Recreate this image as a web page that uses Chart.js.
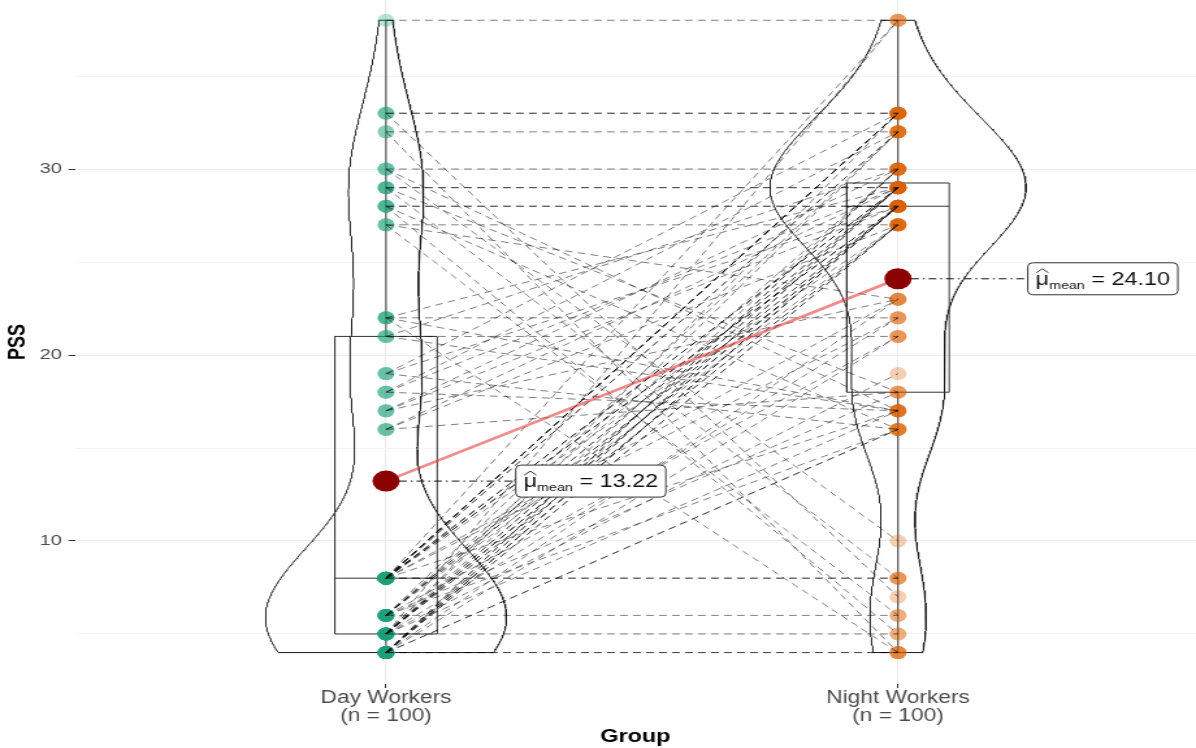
<!DOCTYPE html>
<html>
<head>
<meta charset="utf-8">
<script src="https://cdn.jsdelivr.net/npm/chart.js@4.4.0/dist/chart.umd.min.js"></script>
<style>
html, body { margin: 0; padding: 0; background: #fff; overflow: hidden; }
/* the reference picture is stretched sideways, so the canvas is too */
#wrap { width: 920px; height: 748px; transform: scaleX(1.3); transform-origin: 0 0; }
</style>
</head>
<body>
<div id="wrap"><canvas id="myChart" width="920" height="748"></canvas></div>
<script>
var groupLabels = [['Day Workers', '(n = 100)'], ['Night Workers', '(n = 100)']];
var yTicks = [5, 10, 15, 20, 25, 30, 35];

// PSS per worker, same person on the same index in both lists
var dayPSS = [38, 33, 33, 33, 32, 32, 30, 30, 30, 29, 29, 29, 29, 28, 28, 28, 28, 27, 27, 27,
    22, 22, 22, 22, 21, 21, 21, 19, 19, 19, 18, 18, 18, 17, 17, 17, 16, 16, 16,
    4, 4, 4, 4, 4, 4, 4, 4, 4, 4, 4, 4, 4, 4, 4,
    5, 5, 5, 5, 5, 5, 5, 5, 5, 5, 5, 5, 5, 5, 5,
    6, 6, 6, 6, 6, 6, 6, 6, 6, 6, 6,
    8, 8, 8, 8, 8, 8, 8, 8, 8, 8, 8, 8, 8, 8, 8, 8, 8, 8, 8, 8];
var nightPSS = [38, 33, 33, 7, 32, 4, 30, 10, 17, 29, 29, 8, 18, 28, 28, 5, 16, 27, 6, 23,
    22, 4, 17, 29, 21, 17, 30, 16, 28, 33, 17, 29, 32, 23, 28, 30, 18, 27, 29,
    4, 4, 16, 16, 21, 23, 27, 27, 28, 28, 28, 29, 29, 30, 30,
    5, 17, 19, 22, 27, 27, 28, 28, 28, 29, 29, 30, 38, 32, 33,
    6, 16, 18, 21, 27, 28, 28, 29, 29, 30, 32,
    8, 8, 17, 22, 23, 27, 28, 28, 28, 29, 29, 29, 33, 33, 33, 38, 32, 32, 33, 33];

var groupColors = ['rgba(27,158,119,0.3)', 'rgba(217,95,2,0.3)'];

Chart.defaults.font.family = '"Liberation Sans", Arial, sans-serif';

function quantile(s, p) {
    var h = (s.length - 1) * p, lo = Math.floor(h);
    var hi = Math.min(lo + 1, s.length - 1);
    return s[lo] + (h - lo) * (s[hi] - s[lo]);
}

function stats(v) {
    var s = v.slice().sort(function (a, b) { return a - b; });
    var n = s.length;
    var mean = s.reduce(function (a, b) { return a + b; }, 0) / n;
    var sd = Math.sqrt(s.reduce(function (a, b) { return a + (b - mean) * (b - mean); }, 0) / (n - 1));
    var q1 = quantile(s, 0.25), q3 = quantile(s, 0.75);
    var bw = 0.9 * Math.min(sd, (q3 - q1) / 1.34) * Math.pow(n, -0.2);
    return { min: s[0], max: s[n - 1], q1: q1, med: quantile(s, 0.5), q3: q3, mean: mean, bw: bw, n: n };
}

function density(v, st) {
    var out = [];
    for (var j = 0; j < 512; j++) {
        var g = st.min + (st.max - st.min) * j / 511;
        var d = 0;
        v.forEach(function (x) {
            var z = (g - x) / st.bw;
            d += Math.exp(-0.5 * z * z);
        });
        out.push({ y: g, d: d / (st.n * st.bw * Math.sqrt(2 * Math.PI)) });
    }
    return out;
}

var groups = [dayPSS, nightPSS];
var st = groups.map(stats);
var dens = groups.map(function (v, i) { return density(v, st[i]); });
var maxD = 0;
dens.forEach(function (dd) { dd.forEach(function (p) { maxD = Math.max(maxD, p.d); }); });

var datasets = [];

function pathSet(points, color, width, order, dash) {
    return {
        data: points,
        showLine: true,
        borderColor: color,
        borderWidth: width,
        borderDash: dash || [],
        pointRadius: 0,
        fill: false,
        tension: 0,
        order: order
    };
}

groups.forEach(function (v, i) {
    var c = i + 1, s = st[i];
    // violin outline
    var left = dens[i].map(function (p) { return { x: c - 0.25 * p.d / maxD, y: p.y }; });
    var right = dens[i].slice().reverse().map(function (p) { return { x: c + 0.25 * p.d / maxD, y: p.y }; });
    datasets.push(pathSet(left.concat(right, [left[0]]), '#1a1a1a', 1, 20));
    // box
    datasets.push(pathSet([{ x: c - 0.1, y: s.q1 }, { x: c + 0.1, y: s.q1 }, { x: c + 0.1, y: s.q3 },
        { x: c - 0.1, y: s.q3 }, { x: c - 0.1, y: s.q1 }], '#333', 1, 19));
    datasets.push(pathSet([{ x: c - 0.1, y: s.med }, { x: c + 0.1, y: s.med }], '#333', 1, 19));
    datasets.push(pathSet([{ x: c, y: s.min }, { x: c, y: s.q1 }], '#333', 1, 19));
    datasets.push(pathSet([{ x: c, y: s.q3 }, { x: c, y: s.max }], '#333', 1, 19));
    // points
    datasets.push({
        data: v.map(function (y) { return { x: c, y: y }; }),
        pointRadius: 6.5,
        pointBorderWidth: 0,
        pointBackgroundColor: groupColors[i],
        order: 18
    });
});

// paired lines
dayPSS.forEach(function (d, k) {
    datasets.push(pathSet([{ x: 1, y: d }, { x: 2, y: nightPSS[k] }], 'rgba(0,0,0,0.5)', 1, 10, [6, 4]));
});

// means
datasets.push(pathSet([{ x: 1, y: st[0].mean }, { x: 2, y: st[1].mean }], 'rgba(235,60,60,0.6)', 2.6, 3));
datasets.push({
    data: [{ x: 1, y: st[0].mean }, { x: 2, y: st[1].mean }],
    pointRadius: 10.5,
    pointBorderWidth: 0,
    pointBackgroundColor: '#8B0000',
    order: 2
});

var meanLabelPlugin = {
    id: 'meanLabels',
    afterDatasetsDraw: function (chart) {
        var c = chart.ctx, xs = chart.scales.x, ys = chart.scales.y;
        st.forEach(function (s, i) {
            var px = xs.getPixelForValue(i + 1), py = ys.getPixelForValue(s.mean);
            var cx = xs.getPixelForValue(i + 1.4);
            var txt = ' = ' + s.mean.toFixed(2);
            c.save();
            c.font = '18px "Liberation Sans", Arial, sans-serif';
            var wMu = c.measureText('\u03bc').width, wEq = c.measureText(txt).width;
            c.font = '11px "Liberation Sans", Arial, sans-serif';
            var wSub = c.measureText('mean').width;
            var w = 6 + wMu + wSub + wEq + 6, h = 32;
            var bx = cx - w / 2, by = py - h / 2;
            // dash-dot connector
            c.strokeStyle = '#111';
            c.lineWidth = 1;
            c.setLineDash([6, 3, 1.5, 3]);
            c.beginPath();
            c.moveTo(px + 10, py);
            c.lineTo(bx, py);
            c.stroke();
            c.setLineDash([]);
            // box
            c.fillStyle = '#fff';
            c.strokeStyle = '#333';
            c.beginPath();
            c.roundRect(bx, by, w, h, 4);
            c.fill();
            c.stroke();
            // text
            c.fillStyle = '#111';
            c.textBaseline = 'alphabetic';
            c.textAlign = 'left';
            var tx = bx + 6;
            c.font = '18px "Liberation Sans", Arial, sans-serif';
            c.fillText('\u03bc', tx, py + 6);
            c.beginPath();
            c.moveTo(tx + 0.5, py - 6);
            c.lineTo(tx + wMu / 2, py - 10);
            c.lineTo(tx + wMu - 0.5, py - 6);
            c.stroke();
            c.font = '11px "Liberation Sans", Arial, sans-serif';
            c.fillText('mean', tx + wMu, py + 10);
            c.font = '18px "Liberation Sans", Arial, sans-serif';
            c.fillText(txt, tx + wMu + wSub, py + 6);
            c.restore();
        });
    }
};

var myChart = new Chart(document.getElementById('myChart'), {
    type: 'scatter',
    data: { datasets: datasets },
    options: {
        responsive: false,
        animation: false,
        layout: { padding: 0, autoPadding: false },
        plugins: { legend: { display: false }, tooltip: { enabled: false } },
        scales: {
            x: {
                type: 'linear',
                min: 0.3926,
                max: 2.582,
                afterBuildTicks: function (s) { s.ticks = [{ value: 1 }, { value: 2 }]; },
                afterFit: function (s) { s.height = 64; s.paddingLeft = 0; s.paddingRight = 0; },
                border: { display: false },
                grid: { color: '#EBEBEB', tickColor: '#333', tickLength: 4 },
                ticks: {
                    callback: function (v) { return groupLabels[v - 1]; },
                    font: { size: 17.5, lineHeight: 1.03 },
                    color: '#4D4D4D',
                    padding: 1,
                    maxRotation: 0,
                    autoSkip: false
                },
                title: { display: true, text: 'Group', color: '#000', font: { size: 18, weight: 'bold' }, padding: { top: 0, bottom: 0 } }
            },
            y: {
                min: 2.31,
                max: 39.09,
                afterBuildTicks: function (s) { s.ticks = yTicks.map(function (v) { return { value: v }; }); },
                afterFit: function (s) { s.width = 57.7; s.paddingTop = 0; s.paddingBottom = 0; },
                border: { display: false },
                grid: {
                    color: function (ctx) { return ctx.tick && ctx.tick.value % 10 === 0 ? '#EBEBEB' : '#F4F4F4'; },
                    tickColor: function (ctx) { return ctx.tick && ctx.tick.value % 10 === 0 ? '#333' : 'rgba(0,0,0,0)'; },
                    tickLength: 5
                },
                ticks: {
                    callback: function (v) { return v % 10 === 0 ? String(v) : ''; },
                    font: { size: 15.5 },
                    color: '#4D4D4D',
                    padding: 5
                },
                title: { display: true, text: 'PSS', color: '#000', font: { size: 18, weight: 'bold' }, padding: { top: 3, bottom: 0 } }
            }
        }
    },
    plugins: [meanLabelPlugin]
});
</script>
</body>
</html>
